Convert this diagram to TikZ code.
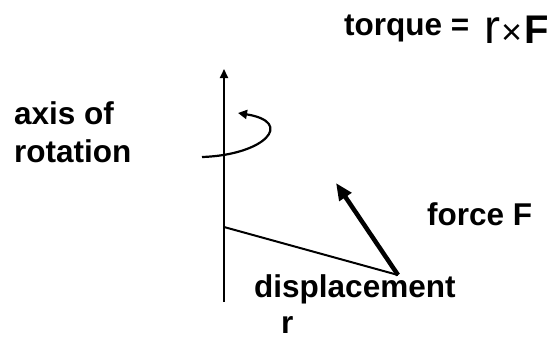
\documentclass[tikz,border=0pt]{standalone}
\usepackage{fontspec}
\setmainfont{Liberation Sans}
\usetikzlibrary{arrows.meta}

\begin{document}
\begin{tikzpicture}[x=1pt,y=-1pt,
    lbl/.style={inner sep=0pt,anchor=base west,font=\fontsize{31.5}{38}\selectfont\bfseries,align=left},
    axisline/.style={line width=2pt,-{Triangle[length=9pt,width=8pt]}},
    thinline/.style={line width=2pt},
    forcearrow/.style={line width=4.5pt,-{Triangle[length=17pt,width=14pt]}},
    turnarrow/.style={line width=2.2pt,-{Triangle[length=9pt,width=9pt]}}
]
\useasboundingbox (0,0) rectangle (548,340);
% points
\coordinate (axbot) at (224,302);
\coordinate (axtop) at (224,69);
\coordinate (pivot) at (224,227);
\coordinate (tip)   at (398,275);
\coordinate (fend)  at (336,183);
\coordinate (turn0) at (202,157);
\coordinate (turn1) at (238,113);
% labels (base = last line)
\node[lbl] (torque) at (344,35) {torque =};
\node[lbl,font=\fontsize{48}{48}\selectfont] (rvec) at (484,43) {r};
\node[lbl,font=\fontsize{36}{36}\selectfont] (cross) at (501,44) {×};
\node[lbl,font=\fontsize{40}{40}\selectfont\bfseries] (fvec) at (524,43) {F};
\node[lbl] (axis) at (14,162) {axis of\\rotation};
\node[lbl] (force) at (427,225) {force F};
\node[lbl,font=\fontsize{31.5}{36}\selectfont\bfseries] (disp) at (254,333) {displacement\\\hspace*{27pt}r};
% axis, lever and force
\draw[axisline] (axbot) -- (axtop);
\draw[turnarrow] (turn0) .. controls (265,155) and (295,122) .. (turn1);
\draw[thinline] (pivot) -- (tip);
\draw[forcearrow] (tip) -- (fend);
\end{tikzpicture}
\end{document}
